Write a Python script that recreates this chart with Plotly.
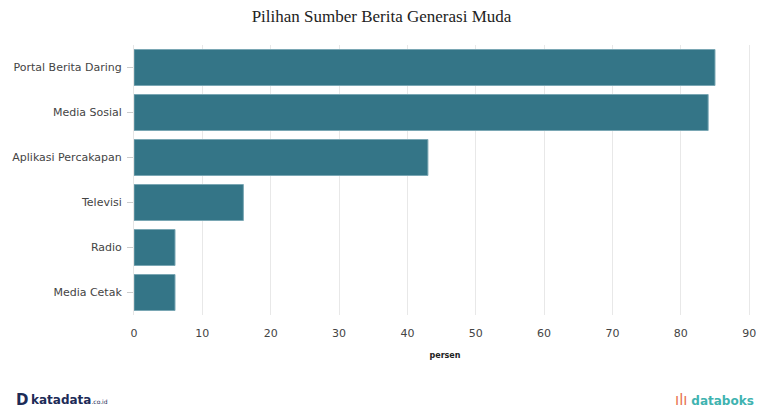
import plotly.graph_objects as go

categories = ["Portal Berita Daring", "Media Sosial", "Aplikasi Percakapan", "Televisi", "Radio", "Media Cetak"]
values = [85, 84, 43, 16, 6, 6]
x_ticks = [0, 10, 20, 30, 40, 50, 60, 70, 80, 90]

fig = go.Figure(go.Bar(
    x=values, y=categories, orientation="h",
    marker=dict(color="#347587", line=dict(color="#7aa7b4", width=1)),
    hoverinfo="x+y",
))

fig.update_layout(
    width=763, height=409,
    margin=dict(l=134, r=7, t=45, b=94),
    paper_bgcolor="white", plot_bgcolor="white",
    bargap=0.2,
    showlegend=False,
    title=dict(text="Pilihan Sumber Berita Generasi Muda", x=0.5, xanchor="center",
               y=0.975, yanchor="top",
               font=dict(family="Liberation Serif, Times New Roman, serif", size=17, color="#222")),
    font=dict(family="DejaVu Sans, Verdana, sans-serif", size=11, color="#444"),
)
fig.update_xaxes(
    range=[0, 91], tickvals=x_ticks, showgrid=True, gridcolor="#e8e8e8", gridwidth=1,
    zeroline=False, showline=False, ticks="", ticklen=0,
    tickfont=dict(size=11, color="#444"), ticklabelstandoff=10,
    title=dict(text="persen", font=dict(size=8, color="#222", weight="bold"), standoff=13),
)
fig.update_yaxes(
    categoryorder="array", categoryarray=categories[::-1],
    showgrid=False, showline=True, linecolor="#e6e6e6", linewidth=1,
    ticks="outside", ticklen=6, tickcolor="#cccccc",
    tickfont=dict(size=11, color="#444"), ticklabelstandoff=3,
)

fig.add_annotation(xref="paper", yref="paper", x=-120/622, y=-0.315, xanchor="left", yanchor="middle",
                   text="<b>D</b>", showarrow=False,
                   font=dict(family="DejaVu Sans, sans-serif", size=15, color="#1d2b57"))
fig.add_annotation(xref="paper", yref="paper", x=-105/622, y=-0.315, xanchor="left", yanchor="middle",
                   text="<b>katadata</b><span style='font-size:6px'>.co.id</span>", showarrow=False,
                   font=dict(family="DejaVu Sans, sans-serif", size=12, color="#1d2b57"))
fig.add_annotation(xref="paper", yref="paper", x=1.0, y=-0.315, xanchor="right", yanchor="middle",
                   text="<span style='color:#e8744f;font-size:15px'>ılı</span> <b>databoks</b>", showarrow=False,
                   font=dict(family="DejaVu Sans, sans-serif", size=12, color="#3fb3b0"))

fig.write_html("out.html")
